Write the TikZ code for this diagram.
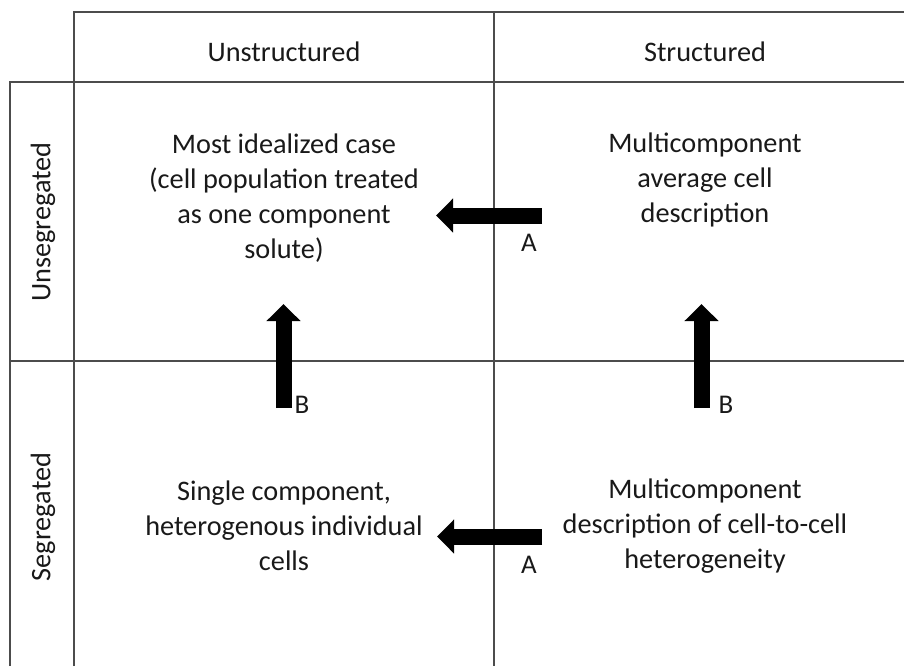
\documentclass[tikz,border=0pt]{standalone}
\usepackage{fontspec}
\setmainfont{Carlito}
\usetikzlibrary{arrows.meta}
\begin{document}
\begin{tikzpicture}[x=1pt,y=-1pt,
  gridline/.style={draw=black!70, line width=1.2pt},
  celltext/.style={align=center, font=\fontsize{28.3}{35}\selectfont, text=black!90, inner sep=0pt},
  lbl/.style={font=\fontsize{27}{30}\selectfont, text=black!90, inner sep=0pt},
  bigarrow/.style={line width=16pt, -{Triangle[width=33pt,length=17pt]}, black}]
\useasboundingbox (0,0) rectangle (904,666);
% grid
\draw[gridline] (74,666) -- (74,12) -- (904,12);
\draw[gridline] (494,12) -- (494,666);
\draw[gridline] (10,666) -- (10,82) -- (904,82);
\draw[gridline] (10,361) -- (904,361);
% headers
\node[celltext] (hU) at (284,52) {Unstructured};
\node[celltext] (hS) at (705,52) {Structured};
\node[celltext, rotate=90] (hUn) at (43,222) {Unsegregated};
\node[celltext, rotate=90] (hSe) at (43,517) {Segregated};
% cells
\node[celltext] (c11) at (284,198) {Most idealized case\\(cell population treated\\as one component\\solute)};
\node[celltext] (c12) at (705,180) {Multicomponent\\average cell\\description};
\node[celltext] (c21) at (284,526) {Single component,\\heterogenous individual\\cells};
\node[celltext] (c22) at (705,526) {Multicomponent\\description of cell-to-cell\\heterogeneity};
% arrows
\coordinate (a1s) at (542,215.5);
\coordinate (a1e) at (436,215.5);
\coordinate (a2s) at (542,536.5);
\coordinate (a2e) at (437,536.5);
\coordinate (b1s) at (283.5,408);
\coordinate (b1e) at (283.5,304);
\coordinate (b2s) at (701.5,408);
\coordinate (b2e) at (701.5,304);
\draw[bigarrow] (a1s) -- (a1e);
\draw[bigarrow] (a2s) -- (a2e);
\draw[bigarrow] (b1s) -- (b1e);
\draw[bigarrow] (b2s) -- (b2e);
% labels
\node[lbl] (la1) at (529,243) {A};
\node[lbl] (la2) at (529,565) {A};
\node[lbl] (lb1) at (302,405) {B};
\node[lbl] (lb2) at (726,405) {B};
\end{tikzpicture}
\end{document}
